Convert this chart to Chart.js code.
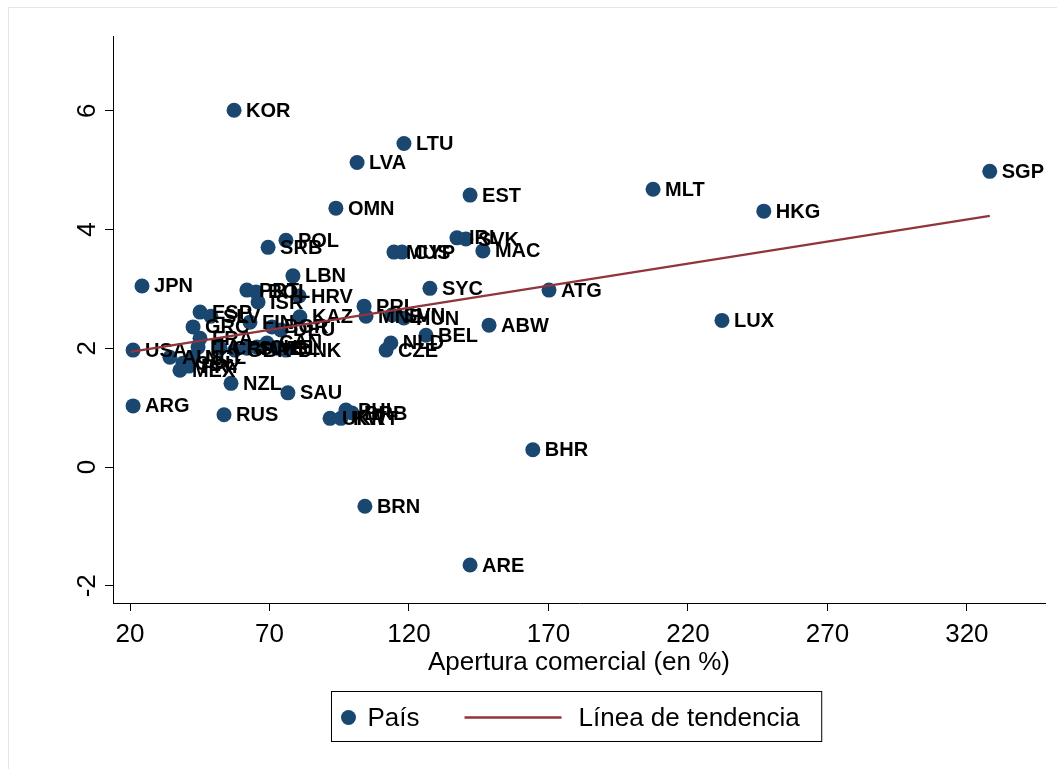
<!DOCTYPE html>
<html>
<head>
<meta charset="utf-8">
<script src="https://cdn.jsdelivr.net/npm/chart.js@4.4.0/dist/chart.umd.min.js"></script>
<style>
  html, body { margin: 0; padding: 0; background: #fff; }
  canvas { display: block; }
</style>
</head>
<body>
<canvas id="myChart" width="1057" height="769"></canvas>
<script>
// country codes, trade openness (%) and growth
const countries = ["KOR", "LTU", "LVA", "SGP", "MLT", "EST", "OMN", "HKG", "IRL", "SVK",
  "POL", "SRB", "MUS", "CYP", "MAC", "LBN", "JPN", "SYC", "ATG", "PRT",
  "BOL", "ISR", "HRV", "PRI", "ESP", "SLV", "GRC", "FIN", "BGR", "DEU",
  "KAZ", "MNE", "SVN", "HUN", "ABW", "LUX", "BEL", "NLD", "CZE", "DNK",
  "FRA", "ITA", "CRI", "GBR", "SWE", "CHE", "CAN", "ISL", "USA", "AUS",
  "COL", "MEX", "PRY", "NCL", "NZL", "SAU", "ARG", "RUS", "UKR", "KWT",
  "PHL", "BRB", "BHR", "BRN", "ARE"];
const openness = [57.3, 118.2, 101.4, 328.2, 207.5, 141.9, 93.8, 247.2, 137.2, 140.4,
  75.9, 69.5, 114.6, 117.5, 146.5, 78.4, 24.3, 127.5, 170.2, 61.9,
  65.2, 65.9, 80.6, 103.9, 45.1, 49.0, 42.6, 63.0, 70.9, 74.1,
  80.9, 104.6, 113.9, 118.2, 148.7, 232.2, 126.1, 113.5, 111.8, 75.9,
  45.1, 44.4, 52.3, 57.6, 61.9, 65.5, 69.1, 72.7, 21.1, 34.3,
  39.0, 37.9, 41.1, 42.6, 56.2, 76.6, 21.1, 53.7, 91.7, 95.6,
  97.4, 99.6, 164.4, 104.2, 141.9];
const growth = [6.01, 5.45, 5.13, 4.98, 4.68, 4.58, 4.36, 4.31, 3.86, 3.84,
  3.82, 3.70, 3.62, 3.62, 3.64, 3.22, 3.05, 3.01, 2.98, 2.98,
  2.95, 2.78, 2.88, 2.71, 2.61, 2.54, 2.36, 2.44, 2.36, 2.31,
  2.53, 2.54, 2.56, 2.51, 2.39, 2.47, 2.22, 2.09, 1.97, 1.97,
  2.17, 2.02, 2.00, 1.97, 2.00, 2.02, 2.09, 2.00, 1.97, 1.85,
  1.75, 1.63, 1.70, 1.84, 1.41, 1.25, 1.03, 0.88, 0.82, 0.82,
  0.96, 0.91, 0.29, -0.66, -1.65];

const trendX = [20.2, 328.2];
const trendY = [1.94, 4.23];

const xTicks = [20, 70, 120, 170, 220, 270, 320];
const yTicks = [-2, 0, 2, 4, 6];

const navy = "#1a476f";
const maroon = "#90353b";
const fontFamily = '"Liberation Sans", Arial, sans-serif';

Chart.defaults.font.family = fontFamily;
Chart.defaults.color = "#000";

// light frame of the graph region
const frame = {
  id: "frame",
  beforeDraw(chart) {
    const ctx = chart.ctx;
    ctx.save();
    ctx.strokeStyle = "#dfe7ea";
    ctx.lineWidth = 1;
    ctx.beginPath();
    ctx.moveTo(8.5, chart.height);
    ctx.lineTo(8.5, 7.5);
    ctx.lineTo(chart.width, 7.5);
    ctx.stroke();
    ctx.restore();
  }
};

// marker labels at 3 o'clock
const pointLabels = {
  id: "pointLabels",
  afterDatasetDraw(chart, args) {
    if (args.index !== 1) return;
    const ctx = chart.ctx;
    ctx.save();
    ctx.font = "bold 20px " + fontFamily;
    ctx.fillStyle = "#000";
    ctx.textBaseline = "middle";
    args.meta.data.forEach((pt, i) => {
      ctx.fillText(countries[i], pt.x + 12, pt.y + 1);
    });
    ctx.restore();
  }
};

// rotated y tick labels and the boxed legend
const extras = {
  id: "extras",
  afterDraw(chart) {
    const ctx = chart.ctx;
    const y = chart.scales.y;
    ctx.save();
    ctx.font = "26px " + fontFamily;
    ctx.fillStyle = "#000";
    y.ticks.forEach((t) => {
      const py = y.getPixelForValue(t.value);
      ctx.save();
      ctx.translate(y.right - 25, py);
      ctx.rotate(-Math.PI / 2);
      ctx.textAlign = "center";
      ctx.textBaseline = "middle";
      ctx.fillText(String(t.value), 0, 0);
      ctx.restore();
    });

    // legend
    const area = chart.chartArea;
    const labelA = chart.data.datasets[1].label;
    const labelB = chart.data.datasets[0].label;
    const wA = ctx.measureText(labelA).width;
    const wB = ctx.measureText(labelB).width;
    const boxW = 36 + wA + 45 + 97 + 17 + wB + 22;
    const boxH = 50;
    const left = Math.round((area.left + area.right) / 2 - boxW / 2) - 2.5;
    const top = 691.5;
    const cy = top + boxH / 2 + 1;
    ctx.strokeStyle = "#000";
    ctx.lineWidth = 1;
    ctx.strokeRect(left, top, boxW, boxH);
    ctx.fillStyle = navy;
    ctx.beginPath();
    ctx.arc(left + 17, cy, 7.5, 0, Math.PI * 2);
    ctx.fill();
    ctx.fillStyle = "#000";
    ctx.textBaseline = "middle";
    ctx.textAlign = "left";
    ctx.fillText(labelA, left + 36, cy + 1);
    const lx = left + 36 + wA + 45;
    ctx.strokeStyle = maroon;
    ctx.lineWidth = 2.5;
    ctx.beginPath();
    ctx.moveTo(lx, cy);
    ctx.lineTo(lx + 97, cy);
    ctx.stroke();
    ctx.fillText(labelB, lx + 97 + 17, cy + 1);
    ctx.restore();
  }
};

const ctx = document.getElementById("myChart").getContext("2d");

new Chart(ctx, {
  data: {
    datasets: [
      {
        type: "line",
        label: "Línea de tendencia",
        data: trendX.map((x, i) => ({ x: x, y: trendY[i] })),
        borderColor: maroon,
        borderWidth: 2.2,
        pointRadius: 0,
        fill: false
      },
      {
        type: "scatter",
        label: "País",
        data: openness.map((x, i) => ({ x: x, y: growth[i] })),
        backgroundColor: navy,
        borderWidth: 0,
        pointRadius: 7.5,
        pointHoverRadius: 7.5
      }
    ]
  },
  options: {
    responsive: false,
    animation: false,
    layout: { padding: { top: 36, right: 12, bottom: 86, left: 0 } },
    plugins: {
      legend: { display: false },
      tooltip: { enabled: false }
    },
    scales: {
      x: {
        type: "linear",
        min: 13.9,
        max: 348,
        afterBuildTicks: (s) => { s.ticks = xTicks.map((v) => ({ value: v })); },
        afterFit: (s) => { s.height = 80; },
        grid: { drawOnChartArea: false, tickLength: 8, color: "#000", tickColor: "#000" },
        border: { color: "#000", width: 1 },
        ticks: { font: { size: 26 }, color: "#000", padding: 8, maxRotation: 0, autoSkip: false },
        title: {
          display: true,
          text: "Apertura comercial (en %)",
          font: { size: 26 },
          color: "#000",
          padding: { top: 0, bottom: 5 }
        }
      },
      y: {
        type: "linear",
        min: -2.29,
        max: 7.26,
        afterBuildTicks: (s) => { s.ticks = yTicks.map((v) => ({ value: v })); },
        afterFit: (s) => { s.width = 113; },
        grid: { drawOnChartArea: false, tickLength: 8, color: "#000", tickColor: "#000" },
        border: { color: "#000", width: 1 },
        ticks: { display: false }
      }
    }
  },
  plugins: [frame, pointLabels, extras]
});
</script>
</body>
</html>
